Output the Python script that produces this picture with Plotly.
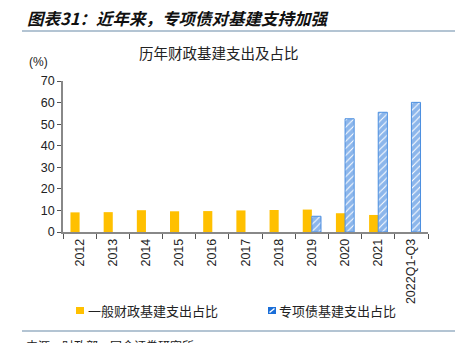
import plotly.graph_objects as go

categories = ["2012", "2013", "2014", "2015", "2016", "2017", "2018", "2019", "2020", "2021", "2022Q1-Q3"]
general_share = [9.1, 9.2, 10.1, 9.6, 9.7, 10.0, 10.2, 10.4, 8.7, 7.9, None]
special_share = [None, None, None, None, None, None, None, 7.3, 52.5, 55.5, 60.1]
yticks = [0, 10, 20, 30, 40, 50, 60, 70]
names = ["一般财政基建支出占比", "专项债基建支出占比"]

W, H = 455, 343
L, R, T, B = 63, 428, 81, 232
pw, ph = R - L, B - T

def px(x):
    return (x - L) / pw

def py(y):
    return (B - y) / ph

YELLOW = "#FFC000"
BLUE = "#1A6ED8"

fig = go.Figure()
fig.add_trace(go.Bar(
    x=categories, y=general_share, name=names[0],
    marker=dict(color=YELLOW, line=dict(width=0)),
))
fig.add_trace(go.Bar(
    x=categories, y=special_share, name=names[1],
    marker=dict(color="white", line=dict(color="#4C8FE0", width=1),
                pattern=dict(shape="/", fgcolor=BLUE, bgcolor="white", size=5, solidity=0.8)),
))

cjk = "Noto Sans CJK SC"
fig.update_layout(
    width=W, height=H,
    margin=dict(l=L, r=W - R, t=T, b=H - B, autoexpand=False),
    paper_bgcolor="white", plot_bgcolor="white",
    barmode="group", bargap=0.45, bargroupgap=0,
    showlegend=False,
    font=dict(family="Liberation Sans, Arial", size=12, color="#333"),
)
fig.update_xaxes(
    type="category", showline=True, linecolor="#888", linewidth=1.5,
    ticks="outside", tickson="boundaries", ticklen=5, tickcolor="#555",
    tickangle=-90, tickfont=dict(size=12.5, color="#222"), showgrid=False, automargin=False,
)
fig.update_yaxes(
    range=[0, 70], tickvals=yticks, showline=True, linecolor="#888", linewidth=1.5,
    ticks="outside", ticklen=4, tickcolor="#555", showgrid=False, zeroline=False,
    tickfont=dict(size=12.5, color="#222"), automargin=False,
)

# header
fig.add_annotation(text="<b><i>图表31：近年来，专项债对基建支持加强</i></b>", xref="paper", yref="paper",
                   x=px(25), y=py(18), xanchor="left", yanchor="middle", showarrow=False,
                   font=dict(family=cjk, size=16.5, color="#111"))
fig.add_shape(type="line", xref="paper", yref="paper", x0=px(22), x1=px(455), y0=py(31), y1=py(31),
              line=dict(color="#9AB0C4", width=1.5))
fig.add_annotation(text="历年财政基建支出及占比", xref="paper", yref="paper",
                   x=px(219), y=py(53), xanchor="center", yanchor="middle", showarrow=False,
                   font=dict(family=cjk, size=14.5, color="#222"))
fig.add_annotation(text="(%)", xref="paper", yref="paper",
                   x=px(38), y=py(62), xanchor="center", yanchor="middle", showarrow=False,
                   font=dict(size=12, color="#222"))

# legend (manual)
fig.add_shape(type="rect", xref="paper", yref="paper", x0=px(76), x1=px(84), y0=py(314), y1=py(307),
              fillcolor=YELLOW, line=dict(width=0))
fig.add_annotation(text=names[0], xref="paper", yref="paper",
                   x=px(86), y=py(310.5), xanchor="left", yanchor="middle", showarrow=False,
                   font=dict(family=cjk, size=13, color="#222"))
fig.add_shape(type="rect", xref="paper", yref="paper", x0=px(268), x1=px(276), y0=py(314), y1=py(307),
              fillcolor=BLUE, line=dict(width=0))
fig.add_shape(type="line", xref="paper", yref="paper", x0=px(269.5), x1=px(274.5), y0=py(312.5), y1=py(308.5),
              line=dict(color="white", width=1.5))
fig.add_annotation(text=names[1], xref="paper", yref="paper",
                   x=px(277), y=py(310.5), xanchor="left", yanchor="middle", showarrow=False,
                   font=dict(family=cjk, size=13, color="#222"))

# footer
fig.add_shape(type="line", xref="paper", yref="paper", x0=px(22), x1=px(455), y0=py(331), y1=py(331),
              line=dict(color="#9AB0C4", width=1.5))
fig.add_annotation(text="来源：财政部，国金证券研究所", xref="paper", yref="paper",
                   x=px(24), y=py(335), xanchor="left", yanchor="top", showarrow=False,
                   font=dict(family=cjk, size=12, color="#222"))

fig.write_html("out.html")
